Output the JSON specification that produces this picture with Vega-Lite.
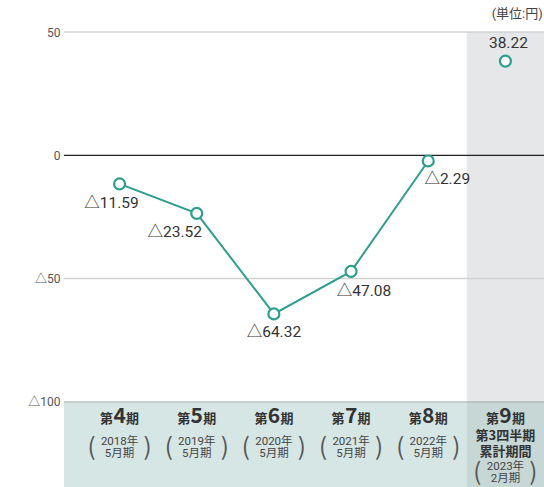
{
  "$schema": "https://vega.github.io/schema/vega-lite/v6.json",
  "width": 480,
  "height": 455,
  "autosize": {"type": "none"},
  "padding": {"left": 64, "top": 32, "right": 0, "bottom": 0},
  "background": "white",
  "config": {"view": {"stroke": null}, "font": "Roboto, 'Noto Sans CJK JP'"},
  "title": {"text": "(単位:円)", "anchor": "end", "orient": "top", "fontSize": 13, "fontWeight": "normal", "font": "Roboto, 'Noto Sans CJK JP'", "color": "#444444", "offset": 5, "dx": -2},
  "data": {"values": [
    {"p": "4", "v": -11.59, "label": "△11.59", "yr": "2018年", "m": "5月期"},
    {"p": "5", "v": -23.52, "label": "△23.52", "yr": "2019年", "m": "5月期"},
    {"p": "6", "v": -64.32, "label": "△64.32", "yr": "2020年", "m": "5月期"},
    {"p": "7", "v": -47.08, "label": "△47.08", "yr": "2021年", "m": "5月期"},
    {"p": "8", "v": -2.29, "label": "△2.29", "yr": "2022年", "m": "5月期"},
    {"p": "9", "v": 38.22, "label": "38.22", "yr": "2023年", "m": "2月期", "s1": "第3四半期", "s2": "累計期間"}
  ]},
  "resolve": {"scale": {"x": "shared", "y": "shared"}},
  "layer": [
    {
      "transform": [{"filter": "datum.p === '9'"}],
      "mark": {"type": "rect", "color": "#e6e7e9"},
      "encoding": {
        "x": {"field": "p", "type": "nominal", "scale": {"type": "band", "domain": ["4","5","6","7","8","9"], "paddingInner": 0, "paddingOuter": 0.11, "align": 1}, "axis": null},
        "y": {"datum": 50, "type": "quantitative", "scale": {"domain": [-134.5, 50], "nice": false, "zero": false}, "axis": {"values": [50, 0, -50, -100], "labelExpr": "datum.value < 0 ? '△' + abs(datum.value) : datum.value", "domain": false, "ticks": false, "grid": false, "labelPadding": 4, "labelFontSize": 12, "labelColor": "#555555", "labelFont": "Roboto, 'Noto Sans CJK JP'", "title": null}},
        "y2": {"datum": -100}
      }
    },
    {
      "data": {"values": [{}]},
      "mark": {"type": "rect", "color": "#d6e6e5"},
      "encoding": {"y": {"datum": -100, "type": "quantitative"}, "y2": {"datum": -134.5}}
    },
    {
      "transform": [{"filter": "datum.p === '9'"}],
      "mark": {"type": "rect", "color": "#c6d7d6"},
      "encoding": {
        "x": {"field": "p", "type": "nominal"},
        "y": {"datum": -100, "type": "quantitative"},
        "y2": {"datum": -134.5}
      }
    },
    {
      "data": {"values": [{}]},
      "mark": {"type": "rule", "color": "#d2d2d2", "strokeWidth": 1.5},
      "encoding": {"y": {"datum": 50, "type": "quantitative"}}
    },
    {
      "data": {"values": [{}]},
      "mark": {"type": "rule", "color": "#d2d2d2", "strokeWidth": 1.5},
      "encoding": {"y": {"datum": -50, "type": "quantitative"}}
    },
    {
      "data": {"values": [{}]},
      "mark": {"type": "rule", "color": "#aaaaaa", "strokeWidth": 1},
      "encoding": {"y": {"datum": -100, "type": "quantitative"}}
    },
    {
      "data": {"values": [{}]},
      "mark": {"type": "rule", "color": "#222222", "strokeWidth": 1.2},
      "encoding": {"y": {"datum": 0, "type": "quantitative"}}
    },
    {
      "transform": [{"filter": "datum.p !== '9'"}],
      "mark": {"type": "line", "color": "#2e9e8e", "strokeWidth": 2},
      "encoding": {
        "x": {"field": "p", "type": "nominal"},
        "y": {"field": "v", "type": "quantitative"}
      }
    },
    {
      "mark": {"type": "point", "filled": true, "fill": "white", "stroke": "#2e9e8e", "strokeWidth": 2.2, "size": 120, "opacity": 1},
      "encoding": {
        "x": {"field": "p", "type": "nominal"},
        "y": {"field": "v", "type": "quantitative"}
      }
    },
    {"transform": [{"filter": "datum.p === '4'"}], "mark": {"type": "text", "fontSize": 15.5, "color": "#333333", "dx": -8, "dy": 19, "baseline": "middle"}, "encoding": {"x": {"field": "p", "type": "nominal"}, "y": {"field": "v", "type": "quantitative"}, "text": {"field": "label"}}},
    {"transform": [{"filter": "datum.p === '5'"}], "mark": {"type": "text", "fontSize": 15.5, "color": "#333333", "dx": -22, "dy": 19, "baseline": "middle"}, "encoding": {"x": {"field": "p", "type": "nominal"}, "y": {"field": "v", "type": "quantitative"}, "text": {"field": "label"}}},
    {"transform": [{"filter": "datum.p === '6'"}], "mark": {"type": "text", "fontSize": 15.5, "color": "#333333", "dx": 0, "dy": 18, "baseline": "middle"}, "encoding": {"x": {"field": "p", "type": "nominal"}, "y": {"field": "v", "type": "quantitative"}, "text": {"field": "label"}}},
    {"transform": [{"filter": "datum.p === '7'"}], "mark": {"type": "text", "fontSize": 15.5, "color": "#333333", "dx": 13, "dy": 20, "baseline": "middle"}, "encoding": {"x": {"field": "p", "type": "nominal"}, "y": {"field": "v", "type": "quantitative"}, "text": {"field": "label"}}},
    {"transform": [{"filter": "datum.p === '8'"}], "mark": {"type": "text", "fontSize": 15.5, "color": "#333333", "dx": 19, "dy": 18, "baseline": "middle"}, "encoding": {"x": {"field": "p", "type": "nominal"}, "y": {"field": "v", "type": "quantitative"}, "text": {"field": "label"}}},
    {"transform": [{"filter": "datum.p === '9'"}], "mark": {"type": "text", "fontSize": 15.5, "color": "#333333", "dx": 3, "dy": -18, "baseline": "middle"}, "encoding": {"x": {"field": "p", "type": "nominal"}, "y": {"field": "v", "type": "quantitative"}, "text": {"field": "label"}}},
    {"mark": {"type": "text", "font": "'Noto Sans CJK JP'", "fontSize": 13, "fontWeight": "bold", "color": "#333333", "dx": -13, "dy": 17, "baseline": "middle"}, "encoding": {"x": {"field": "p", "type": "nominal"}, "y": {"datum": -100, "type": "quantitative"}, "text": {"value": "第"}}},
    {"mark": {"type": "text", "font": "'Noto Sans CJK JP'", "fontSize": 21, "fontWeight": "bold", "color": "#333333", "dx": 0, "dy": 15, "baseline": "middle"}, "encoding": {"x": {"field": "p", "type": "nominal"}, "y": {"datum": -100, "type": "quantitative"}, "text": {"field": "p"}}},
    {"mark": {"type": "text", "font": "'Noto Sans CJK JP'", "fontSize": 13, "fontWeight": "bold", "color": "#333333", "dx": 13, "dy": 17, "baseline": "middle"}, "encoding": {"x": {"field": "p", "type": "nominal"}, "y": {"datum": -100, "type": "quantitative"}, "text": {"value": "期"}}},
    {"transform": [{"filter": "datum.p !== '9'"}], "mark": {"type": "text", "font": "Roboto, 'Noto Sans CJK JP'", "fontSize": 11.5, "color": "#444444", "dy": 40, "baseline": "middle"}, "encoding": {"x": {"field": "p", "type": "nominal"}, "y": {"datum": -100, "type": "quantitative"}, "text": {"field": "yr"}}},
    {"transform": [{"filter": "datum.p !== '9'"}], "mark": {"type": "text", "font": "Roboto, 'Noto Sans CJK JP'", "fontSize": 11.5, "color": "#444444", "dy": 52, "baseline": "middle"}, "encoding": {"x": {"field": "p", "type": "nominal"}, "y": {"datum": -100, "type": "quantitative"}, "text": {"field": "m"}}},
    {"transform": [{"filter": "datum.p !== '9'"}], "mark": {"type": "text", "font": "'Noto Sans CJK JP'", "fontSize": 24, "color": "#555555", "dx": -28, "dy": 46, "baseline": "middle"}, "encoding": {"x": {"field": "p", "type": "nominal"}, "y": {"datum": -100, "type": "quantitative"}, "text": {"value": "("}}},
    {"transform": [{"filter": "datum.p !== '9'"}], "mark": {"type": "text", "font": "'Noto Sans CJK JP'", "fontSize": 24, "color": "#555555", "dx": 28, "dy": 46, "baseline": "middle"}, "encoding": {"x": {"field": "p", "type": "nominal"}, "y": {"datum": -100, "type": "quantitative"}, "text": {"value": ")"}}},
    {"transform": [{"filter": "datum.p === '9'"}], "mark": {"type": "text", "font": "'Noto Sans CJK JP'", "fontSize": 13, "fontWeight": "bold", "color": "#333333", "dy": 34, "baseline": "middle"}, "encoding": {"x": {"field": "p", "type": "nominal"}, "y": {"datum": -100, "type": "quantitative"}, "text": {"field": "s1"}}},
    {"transform": [{"filter": "datum.p === '9'"}], "mark": {"type": "text", "font": "'Noto Sans CJK JP'", "fontSize": 13, "fontWeight": "bold", "color": "#333333", "dy": 50, "baseline": "middle"}, "encoding": {"x": {"field": "p", "type": "nominal"}, "y": {"datum": -100, "type": "quantitative"}, "text": {"field": "s2"}}},
    {"transform": [{"filter": "datum.p === '9'"}], "mark": {"type": "text", "font": "Roboto, 'Noto Sans CJK JP'", "fontSize": 11.5, "color": "#444444", "dy": 65, "baseline": "middle"}, "encoding": {"x": {"field": "p", "type": "nominal"}, "y": {"datum": -100, "type": "quantitative"}, "text": {"field": "yr"}}},
    {"transform": [{"filter": "datum.p === '9'"}], "mark": {"type": "text", "font": "Roboto, 'Noto Sans CJK JP'", "fontSize": 11.5, "color": "#444444", "dy": 77, "baseline": "middle"}, "encoding": {"x": {"field": "p", "type": "nominal"}, "y": {"datum": -100, "type": "quantitative"}, "text": {"field": "m"}}},
    {"transform": [{"filter": "datum.p === '9'"}], "mark": {"type": "text", "font": "'Noto Sans CJK JP'", "fontSize": 24, "color": "#555555", "dx": -28, "dy": 71, "baseline": "middle"}, "encoding": {"x": {"field": "p", "type": "nominal"}, "y": {"datum": -100, "type": "quantitative"}, "text": {"value": "("}}},
    {"transform": [{"filter": "datum.p === '9'"}], "mark": {"type": "text", "font": "'Noto Sans CJK JP'", "fontSize": 24, "color": "#555555", "dx": 28, "dy": 71, "baseline": "middle"}, "encoding": {"x": {"field": "p", "type": "nominal"}, "y": {"datum": -100, "type": "quantitative"}, "text": {"value": ")"}}}
  ]
}
